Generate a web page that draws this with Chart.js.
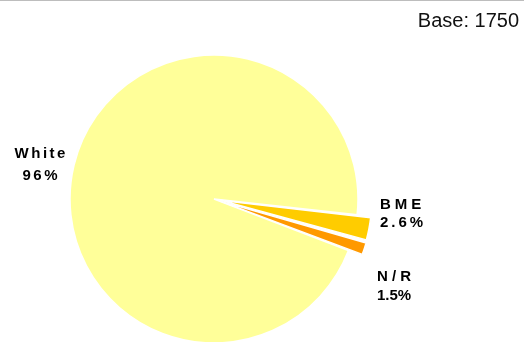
<!DOCTYPE html>
<html>
<head>
<meta charset="utf-8">
<script src="https://cdn.jsdelivr.net/npm/chart.js@4/dist/chart.umd.min.js"></script>
<style>
  html, body { margin: 0; padding: 0; background: #fff; }
  #wrap { width: 524px; height: 341px; border-top: 1px solid #bdbdbd; position: relative; }
  canvas { display: block; }
</style>
</head>
<body>
<div id="wrap"><canvas id="c" width="524" height="341"></canvas></div>
<script>
const categories = ['White', 'BME', 'N/R'];
const shares = [96, 2.6, 1.5];
const shareLabels = ['96%', '2.6%', '1.5%'];
const baseNote = 'Base: 1750';

const sliceColors = ['#FFFF99', '#FFCC00', '#FF9900'];

// label placement (left x / center x, baselines) in page pixels
const labelLayout = [
  { align: 'center', x: 40, y1: 158, y2: 180, ls1: 2.5, ls2: 2.5, name: 'White' },
  { align: 'left', x: 380, y1: 209, y2: 227, ls1: 4, ls2: 3, name: 'BME' },
  { align: 'left', x: 377, y1: 281, y2: 300, ls1: 0, ls2: 0, name: 'N / R' }
];

const labelPlugin = {
  id: 'labels',
  afterDraw(chart) {
    const ctx = chart.ctx;
    ctx.save();
    ctx.fillStyle = '#000';
    ctx.textBaseline = 'alphabetic';
    ctx.font = 'bold 15px "Liberation Sans", Arial, sans-serif';
    categories.forEach((cat, i) => {
      const L = labelLayout[i];
      const lines = [[L.name, L.y1, L.ls1], [shareLabels[i], L.y2, L.ls2]];
      lines.forEach(([t, y, ls]) => {
        ctx.letterSpacing = ls + 'px';
        let x = L.x;
        if (L.align === 'center') {
          const w = ctx.measureText(t).width - ls;
          x = L.x - w / 2;
        }
        ctx.textAlign = 'left';
        ctx.fillText(t, x, y - 1);
      });
    });
    ctx.letterSpacing = '0px';
    ctx.font = '20px "Liberation Sans", Arial, sans-serif';
    ctx.textAlign = 'right';
    ctx.fillStyle = '#111';
    ctx.fillText(baseNote, 519, 26);
    ctx.restore();
  }
};

new Chart(document.getElementById('c'), {
  type: 'pie',
  data: {
    labels: categories,
    datasets: [{
      data: shares,
      backgroundColor: sliceColors,
      borderColor: '#ffffff',
      borderWidth: 1.5,
      offset: [0, 30, 30],
      clip: false
    }]
  },
  options: {
    responsive: false,
    animation: false,
    rotation: 111,
    radius: 144,
    layout: { padding: { left: 0, right: 96, top: 55, bottom: 0 } },
    plugins: { legend: { display: false }, tooltip: { enabled: false } },
    events: []
  },
  plugins: [labelPlugin]
});
</script>
</body>
</html>
